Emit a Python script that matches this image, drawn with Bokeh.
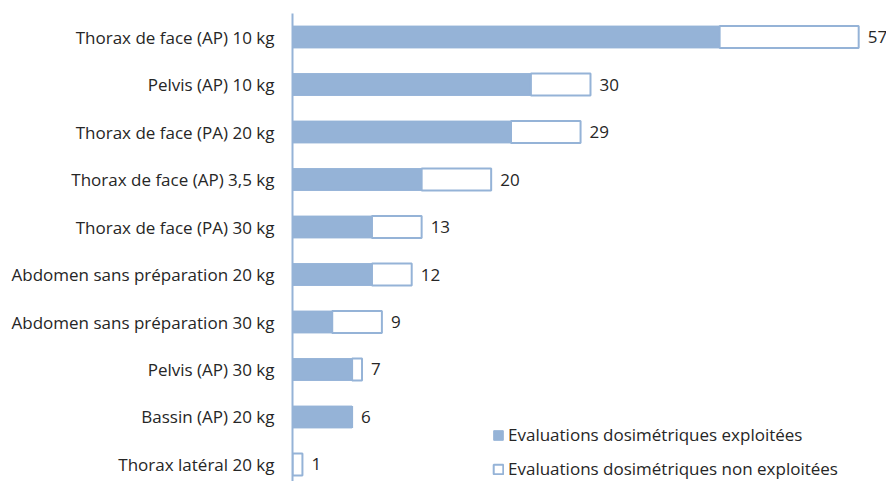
from bokeh.plotting import figure
from bokeh.models import Range1d, FixedTicker, Legend, LegendItem, ColumnDataSource
from bokeh.core.properties import value
from bokeh.embed import file_html
from bokeh.resources import INLINE

# Examinations, top to bottom
categories = [
    "Thorax de face (AP) 10 kg",
    "Pelvis (AP) 10 kg",
    "Thorax de face (PA) 20 kg",
    "Thorax de face (AP) 3,5 kg",
    "Thorax de face (PA) 30 kg",
    "Abdomen sans préparation 20 kg",
    "Abdomen sans préparation 30 kg",
    "Pelvis (AP) 30 kg",
    "Bassin (AP) 20 kg",
    "Thorax latéral 20 kg",
]
exploitees = [43, 24, 22, 13, 8, 8, 4, 6, 6, 0]
non_exploitees = [14, 6, 7, 7, 5, 4, 5, 1, 0, 1]
series_names = [
    "Evaluations dosimétriques exploitées",
    "Evaluations dosimétriques non exploitées",
]

FONT = "Open Sans"
FONT_SIZE = "17px"
TEXT_COLOR = "#262626"
BLUE = "#95B3D7"

n = len(categories)
ypos = [n - 1 - i for i in range(n)]
totals = [a + b for a, b in zip(exploitees, non_exploitees)]

src = ColumnDataSource(dict(
    y=ypos,
    cat=categories,
    zero=[0] * n,
    exp=exploitees,
    tot=totals,
    lbl=[str(t) for t in totals],
))

p = figure(
    width=886, height=481,
    x_range=Range1d(0, 59.8),
    y_range=Range1d(-0.358, n - 1 + 0.495),
    output_backend="svg", toolbar_location=None,
    min_border_left=292, min_border_right=0,
    min_border_top=13, min_border_bottom=0,
)
p.outline_line_color = None
p.background_fill_color = "white"
p.border_fill_color = "white"
p.grid.visible = False
p.xaxis.visible = False

BAR_H = 0.46
r_exp = p.hbar(y="y", left="zero", right="exp", height=BAR_H, source=src,
               fill_color=BLUE, line_color=BLUE, line_width=1)
r_non = p.hbar(y="y", left="exp", right="tot", height=BAR_H, source=src,
               fill_color="white", line_color=BLUE, line_width=2)

p.text(x="tot", y="y", text="lbl", source=src, x_offset=9,
       text_baseline="middle", text_align="left",
       text_font=value(FONT), text_font_size=FONT_SIZE, text_color=TEXT_COLOR)

yax = p.yaxis[0]
yax.ticker = FixedTicker(ticks=ypos)
yax.major_label_overrides = {y: c for y, c in zip(ypos, categories)}
yax.major_tick_line_color = None
yax.minor_tick_line_color = None
yax.major_tick_out = 0
yax.major_label_standoff = 18
yax.axis_line_color = BLUE
yax.axis_line_width = 2
yax.major_label_text_font = FONT
yax.major_label_text_font_size = FONT_SIZE
yax.major_label_text_color = TEXT_COLOR

legend = Legend(
    items=[LegendItem(label=series_names[0], renderers=[r_exp]),
           LegendItem(label=series_names[1], renderers=[r_non])],
    location=(200, 1),
    orientation="vertical",
    glyph_width=12, glyph_height=12,
    label_height=20, spacing=11,
    label_standoff=4,
    padding=0, margin=0,
    border_line_color=None, background_fill_alpha=0,
    label_text_font=FONT, label_text_font_size=FONT_SIZE,
    label_text_color=TEXT_COLOR,
)
p.add_layout(legend)

open("out.html", "w").write(file_html(p, INLINE))
